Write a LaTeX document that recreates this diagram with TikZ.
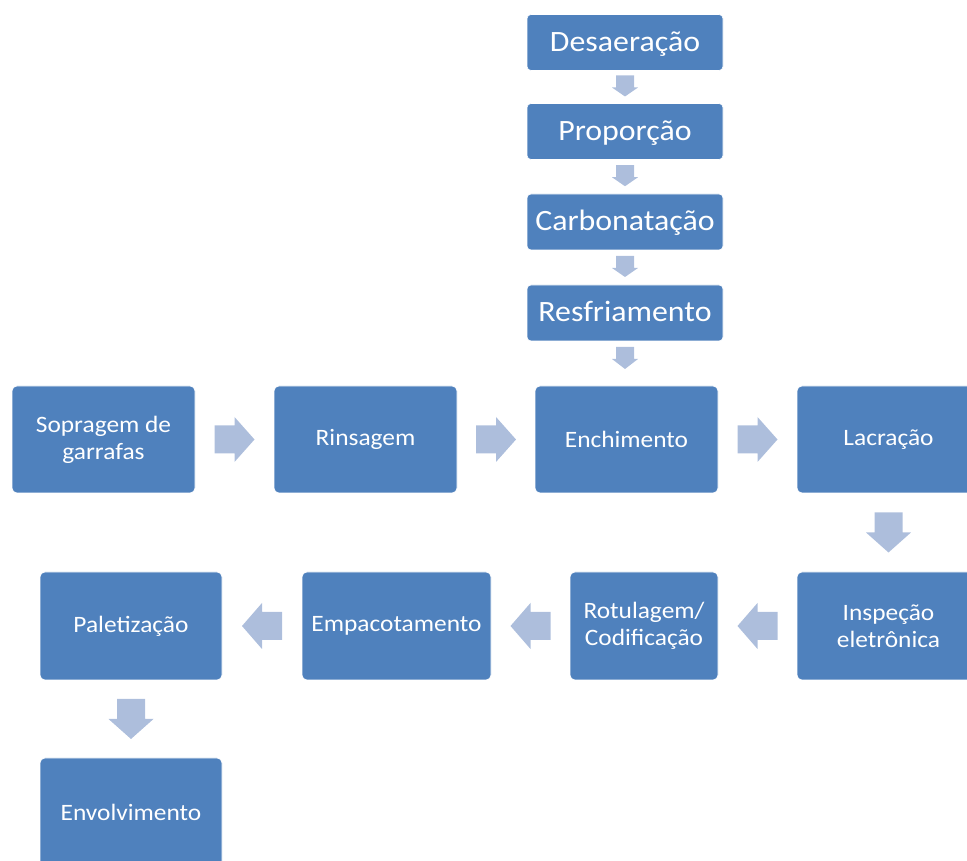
\documentclass[tikz,border=0pt]{standalone}
\usepackage{fontspec}
\setmainfont{Carlito}[FakeStretch=1.08]
\usetikzlibrary{calc}

\definecolor{boxblue}{HTML}{4F81BD}
\definecolor{arrowblue}{HTML}{ADBEDC}

\tikzset{
  x=1pt, y=1pt,
  stagebox/.style={fill=boxblue, draw=white, line width=0.6pt, rounded corners=5pt,
    inner sep=0pt, outer sep=0pt, text=white, align=center,
    font=\fontsize{23.5}{27}\selectfont},
  topbox/.style={stagebox, rounded corners=4pt, minimum width=196, minimum height=56,
    text height=21.5, text depth=3.5,
    font=\fontsize{29.5}{34}\selectfont},
  blockarrow/.style={fill=arrowblue, draw=none},
}

% block arrow pointing along +x, centred on the origin of its scope
% #1 length, #2 head length, #3 shaft width, #4 head width
\newcommand{\blockarr}[4]{%
  \fill[blockarrow] (-#1/2,-#3/2) -- (#1/2-#2,-#3/2) -- (#1/2-#2,-#4/2) -- (#1/2,0)
    -- (#1/2-#2,#4/2) -- (#1/2-#2,#3/2) -- (-#1/2,#3/2) -- cycle;}

\begin{document}
\begin{tikzpicture}
\useasboundingbox (0,0) rectangle (967,861);
\clip (0,0) rectangle (967,861);

% preparation column
\node[topbox] (des) at (625,818.5) {Desaeração};
\node[topbox] (pro) at (625,729.5) {Proporção};
\node[topbox] (car) at (625,639) {Carbonatação};
\node[topbox] (res) at (625,548) {Resfriamento};

% first row: bottle line
\node[stagebox, minimum width=183, minimum height=107] (sop) at (103.5,421.5) {Sopragem de\\garrafas};
\node[stagebox, minimum width=183, minimum height=107] (rin) at (365.5,421.5) {Rinsagem};
\node[stagebox, minimum width=183, minimum height=107] (enc) at (626.5,421.5) {Enchimento};
\node[stagebox, minimum width=183, minimum height=107] (lac) at (888.5,421.5) {Lacração};

% second row: finishing, running right to left
\node[stagebox, minimum width=183, minimum height=108] (ins) at (888.5,235) {Inspeção\\eletrônica};
\node[stagebox, minimum width=148, minimum height=108] (rot) at (644,235) {Rotulagem/\\Codificação};
\node[stagebox, minimum width=189, minimum height=108] (emp) at (396.5,235) {Empacotamento};
\node[stagebox, minimum width=182, minimum height=108] (pal) at (131,235) {Paletização};
\node[stagebox, minimum width=182, minimum height=108] (env) at (131,49) {Envolvimento};

% small arrows of the preparation column
\begin{scope}[shift={($(des.south)!0.5!(pro.north)+(0,1)$)}, rotate=-90]\blockarr{21}{9}{18}{26}\end{scope}
\begin{scope}[shift={($(pro.south)!0.5!(car.north)+(0,1)$)}, rotate=-90]\blockarr{21}{9}{18}{26}\end{scope}
\begin{scope}[shift={($(car.south)!0.5!(res.north)+(0,1)$)}, rotate=-90]\blockarr{21}{9}{18}{26}\end{scope}
\begin{scope}[shift={($(res.south)+(0,-17)$)}, rotate=-90]\blockarr{22}{10}{18}{26}\end{scope}

% arrows of the first row
\begin{scope}[shift={($(sop.east)!0.5!(rin.west)$)}]\blockarr{40}{20}{28}{45}\end{scope}
\begin{scope}[shift={($(rin.east)!0.5!(enc.west)$)}]\blockarr{40}{20}{28}{45}\end{scope}
\begin{scope}[shift={($(enc.east)!0.5!(lac.west)$)}]\blockarr{40}{20}{28}{45}\end{scope}

% turn down to the second row
\begin{scope}[shift={($(lac.south)!0.5!(ins.north)$)}, rotate=-90]\blockarr{40}{20}{28}{45}\end{scope}

% arrows of the second row
\begin{scope}[shift={($(ins.west)!0.5!(rot.east)$)}, rotate=180]\blockarr{40}{20}{28}{46}\end{scope}
\begin{scope}[shift={($(rot.west)!0.5!(emp.east)$)}, rotate=180]\blockarr{40}{20}{28}{46}\end{scope}
\begin{scope}[shift={($(emp.west)!0.5!(pal.east)$)}, rotate=180]\blockarr{40}{20}{28}{46}\end{scope}

% down to the wrapping step
\begin{scope}[shift={($(pal.south)!0.5!(env.north)$)}, rotate=-90]\blockarr{40}{20}{28}{45}\end{scope}
\end{tikzpicture}
\end{document}
